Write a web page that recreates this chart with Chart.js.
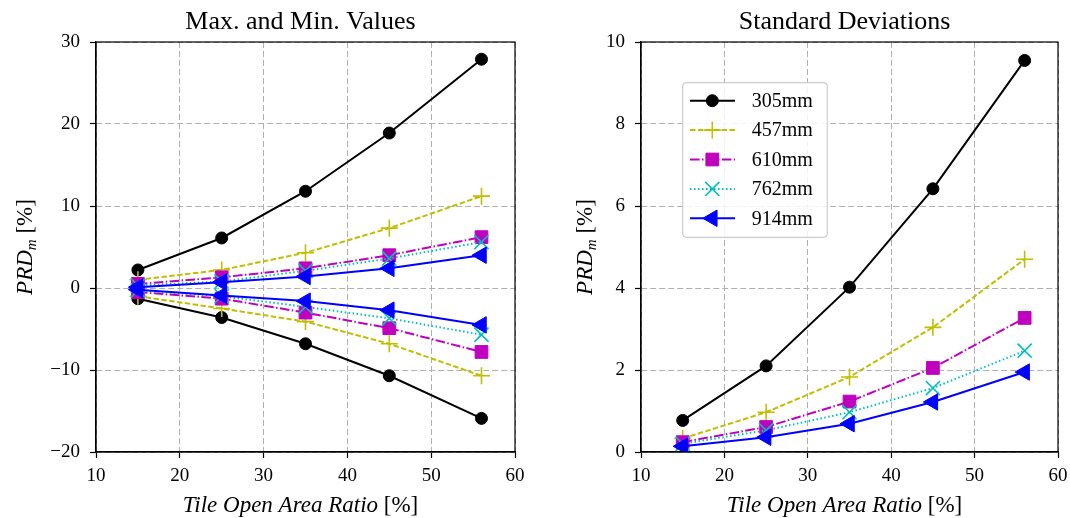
<!DOCTYPE html>
<html><head><meta charset="utf-8">
<script src="https://cdn.jsdelivr.net/npm/chart.js@4.4.1/dist/chart.umd.min.js"></script>
<style>
body{margin:0;background:#fff;width:1070px;height:518px;overflow:hidden;position:relative}
canvas{position:absolute;top:0}
#c1{left:0}#c2{left:535px}
</style></head><body>
<canvas id="c1" width="535" height="518"></canvas>
<canvas id="c2" width="535" height="518"></canvas>
<script>
// ---- data ----
const tileOpenAreaRatio = [15, 25, 35, 45, 56];
const seriesNames = ['305mm', '457mm', '610mm', '762mm', '914mm'];
const max305 = [2.2, 6.1, 11.8, 18.9, 27.9];
const min305 = [-1.3, -3.6, -6.8, -10.7, -15.9];
const max457 = [1.0, 2.2, 4.3, 7.3, 11.2];
const min457 = [-1.0, -2.5, -4.1, -6.8, -10.7];
const max610 = [0.5, 1.3, 2.4, 4.0, 6.2];
const min610 = [-0.5, -1.3, -3.0, -4.9, -7.8];
const max762 = [0.3, 0.8, 2.1, 3.6, 5.6];
const min762 = [-0.3, -1.0, -2.3, -3.7, -5.7];
const max914 = [0.1, 0.7, 1.4, 2.4, 4.0];
const min914 = [-0.2, -0.9, -1.6, -2.7, -4.5];
const std305 = [0.77, 2.10, 4.02, 6.42, 9.55];
const std457 = [0.33, 0.97, 1.83, 3.04, 4.70];
const std610 = [0.24, 0.61, 1.23, 2.05, 3.27];
const std762 = [0.20, 0.53, 0.97, 1.56, 2.47];
const std914 = [0.14, 0.36, 0.69, 1.22, 1.95];
const xTickValues = [10, 20, 30, 40, 50, 60];
const leftYTickValues = [-20, -10, 0, 10, 20, 30];
const rightYTickValues = [0, 2, 4, 6, 8, 10];
const leftTitle = 'Max. and Min. Values';
const rightTitle = 'Standard Deviations';

// ---- styles ----
const FONT = "'Liberation Serif', 'DejaVu Serif', serif";
const styles = [
  {color: '#000000', dash: [], point: 'circle', radius: 6, rot: 0, bw: 1},
  {color: '#bfbf00', dash: [5.5, 2.4], point: 'cross', radius: 8.5, rot: 0, bw: 1.6},
  {color: '#bf00bf', dash: [9.6, 2.4, 1.5, 2.4], point: 'rect', radius: 9, rot: 0, bw: 1},
  {color: '#00bfbf', dash: [1.5, 2.5], point: 'crossRot', radius: 10, rot: 0, bw: 1.6},
  {color: '#0000ff', dash: [], point: 'triangle', radius: 9.5, rot: -90, bw: 1}
];

function pts(ys) { return tileOpenAreaRatio.map((x, i) => ({x: x, y: ys[i]})); }
function ds(label, ys, s, order) {
  return {
    label: label, data: pts(ys), borderColor: s.color, backgroundColor: s.color,
    borderWidth: 2, borderDash: s.dash, tension: 0, fill: false,
    pointStyle: s.point, pointRadius: s.radius, pointHoverRadius: s.radius,
    pointRotation: s.rot, pointBorderWidth: s.bw,
    pointBackgroundColor: s.color, pointBorderColor: s.color, order: order
  };
}
function fmt(v) { return v < 0 ? '\u2212' + Math.abs(v) : String(v); }

function scalesFor(yMin, yMax, yTicks, yWidth) {
  const grid = {color: '#b0b0b0', lineWidth: 1, tickColor: '#000',
    tickLength: 6, tickWidth: 1.2, tickBorderDash: [0, 0], drawTicks: true};
  const border = {display: true, color: '#000', width: 1.2, dash: [6, 3]};
  return {
    x: {type: 'linear', min: 10, max: 60,
      afterBuildTicks: s => { s.ticks = xTickValues.map(v => ({value: v})); },
      afterFit: s => { s.height = 66; s.paddingLeft = 0; s.paddingRight = 0; },
      ticks: {font: {family: FONT, size: 19}, color: '#000', padding: 7, autoSkip: false, maxRotation: 0,
        callback: v => fmt(v)},
      grid: grid, border: border},
    y: {type: 'linear', min: yMin, max: yMax,
      afterBuildTicks: s => { s.ticks = yTicks.map(v => ({value: v})); },
      afterFit: s => { s.width = yWidth; s.paddingTop = 0; s.paddingBottom = 0; },
      ticks: {font: {family: FONT, size: 19}, color: '#000', padding: 10, autoSkip: false,
        callback: v => fmt(v)},
      grid: grid, border: border}
  };
}

function drawMixed(ctx, parts, x, y, align) {
  let total = 0;
  parts.forEach(p => { ctx.font = p.style + ' ' + p.size + 'px ' + FONT; p.w = ctx.measureText(p.t).width; total += p.w; });
  let cx = align === 'center' ? x - total / 2 : x;
  ctx.textAlign = 'left'; ctx.textBaseline = 'alphabetic';
  parts.forEach(p => { ctx.font = p.style + ' ' + p.size + 'px ' + FONT; ctx.fillText(p.t, cx, y + (p.dy || 0)); cx += p.w; });
}

function decorPlugin(title, yTitleX, withLegend) {
  return {
    id: 'decor',
    afterDraw(chart) {
      const ctx = chart.ctx, a = chart.chartArea;
      ctx.save();
      ctx.strokeStyle = '#000'; ctx.lineWidth = 1.2; ctx.setLineDash([]);
      ctx.strokeRect(a.left, a.top, a.right - a.left, a.bottom - a.top);
      ctx.fillStyle = '#000';
      const cx = (a.left + a.right) / 2 - 5;
      ctx.font = '26px ' + FONT; ctx.textAlign = 'center'; ctx.textBaseline = 'alphabetic';
      ctx.fillText(title, cx, 29);
      drawMixed(ctx, [{t: 'Tile Open Area Ratio', style: 'italic', size: 23}, {t: ' [%]', style: 'normal', size: 23}], cx, 512, 'center');
      ctx.save();
      ctx.translate(yTitleX, (a.top + a.bottom) / 2);
      ctx.rotate(-Math.PI / 2);
      drawMixed(ctx, [{t: 'PRD', style: 'italic', size: 23}, {t: 'm', style: 'italic', size: 15, dy: 4}, {t: ' [%]', style: 'normal', size: 23}], 0, 0, 'center');
      ctx.restore();
      if (withLegend) {
        const bx = 147.7, by = 82.7, bw = 144.6, bh = 154.6, r = 4;
        ctx.beginPath();
        ctx.moveTo(bx + r, by); ctx.lineTo(bx + bw - r, by); ctx.quadraticCurveTo(bx + bw, by, bx + bw, by + r);
        ctx.lineTo(bx + bw, by + bh - r); ctx.quadraticCurveTo(bx + bw, by + bh, bx + bw - r, by + bh);
        ctx.lineTo(bx + r, by + bh); ctx.quadraticCurveTo(bx, by + bh, bx, by + bh - r);
        ctx.lineTo(bx, by + r); ctx.quadraticCurveTo(bx, by, bx + r, by); ctx.closePath();
        ctx.fillStyle = 'rgba(255,255,255,0.85)'; ctx.fill();
        ctx.strokeStyle = '#cccccc'; ctx.lineWidth = 1.2; ctx.stroke();
        seriesNames.forEach((name, i) => {
          const s = styles[i], yy = 100.7 + i * 29.4;
          ctx.strokeStyle = s.color; ctx.fillStyle = s.color; ctx.lineWidth = 2;
          ctx.setLineDash(s.dash);
          ctx.beginPath(); ctx.moveTo(155, yy); ctx.lineTo(200, yy); ctx.stroke();
          ctx.setLineDash([]);
          ctx.lineWidth = s.bw;
          Chart.helpers.drawPoint(ctx, {pointStyle: s.point, rotation: s.rot, radius: s.radius, borderWidth: s.bw}, 177.3, yy);
          ctx.fillStyle = '#000'; ctx.font = '20px ' + FONT; ctx.textAlign = 'left'; ctx.textBaseline = 'middle';
          ctx.fillText(name, 216.7, yy + 1);
        });
      }
      ctx.restore();
    }
  };
}

Chart.defaults.animation = false;

const leftSets = [];
[[max305, min305], [max457, min457], [max610, min610], [max762, min762], [max914, min914]].forEach((pair, i) => {
  leftSets.push(ds(seriesNames[i] + ' max', pair[0], styles[i], -i));
  leftSets.push(ds(seriesNames[i] + ' min', pair[1], styles[i], -i));
});
new Chart(document.getElementById('c1'), {
  type: 'line',
  data: {datasets: leftSets},
  options: {
    responsive: false, animation: false, events: [],
    layout: {padding: {left: 0, top: 42, right: 20, bottom: 0}},
    plugins: {legend: {display: false}, tooltip: {enabled: false}, title: {display: false}},
    scales: scalesFor(-20, 30, leftYTickValues, 96)
  },
  plugins: [decorPlugin(leftTitle, 32, false)]
});

const rightSets = [std305, std457, std610, std762, std914].map((ys, i) => ds(seriesNames[i], ys, styles[i], -i));
new Chart(document.getElementById('c2'), {
  type: 'line',
  data: {datasets: rightSets},
  options: {
    responsive: false, animation: false, events: [],
    layout: {padding: {left: 0, top: 42, right: 12, bottom: 0}},
    plugins: {legend: {display: false}, tooltip: {enabled: false}, title: {display: false}},
    scales: scalesFor(0, 10, rightYTickValues, 106)
  },
  plugins: [decorPlugin(rightTitle, 57, true)]
});
</script>
</body></html>
